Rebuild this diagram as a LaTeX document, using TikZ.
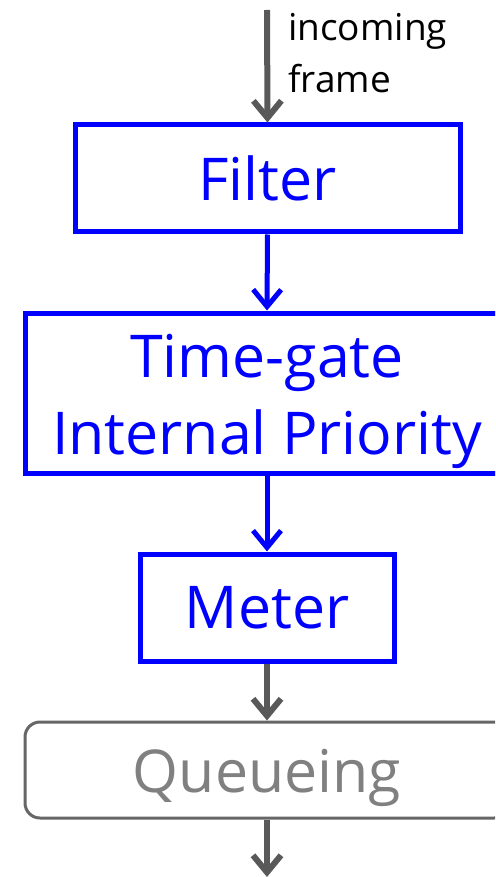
\documentclass[tikz,border=0pt]{standalone}
\usepackage{fontspec}
\setmainfont{Open Sans}
\usetikzlibrary{arrows.meta}
\definecolor{arrgray}{HTML}{595959}
\definecolor{boxgray}{HTML}{666666}
\definecolor{txtgray}{HTML}{808080}
\begin{document}
\begin{tikzpicture}[x=1pt,y=-1pt,
  bluebox/.style={draw=blue,line width=5pt,text=blue,inner sep=0pt,
    font=\fontsize{59}{77}\selectfont,align=center},
  graybox/.style={draw=boxgray,line width=3pt,text=txtgray,rounded corners=15pt,inner sep=0pt,
    font=\fontsize{59}{77}\selectfont},
  barrow/.style={draw=blue,line width=5pt,-{Straight Barb[length=17pt,width=28pt]}},
  garrow/.style={draw=arrgray,line width=6pt,-{Straight Barb[length=17pt,width=28pt]}},
  lbl/.style={font=\fontsize{37}{52}\selectfont,text=black,align=left,inner sep=0pt}
]
\useasboundingbox (0,0) rectangle (495,877);
\clip (0,0) rectangle (495,877);
\node[bluebox,minimum width=385pt,minimum height=107pt] (filter) at (267.5,178.5) {Filter};
\node[bluebox,minimum width=484pt,minimum height=160pt] (tg) at (267,393) {\rule{0pt}{61pt}Time-gate\\Internal Priority};
\node[bluebox,minimum width=254pt,minimum height=107pt] (meter) at (267,607.5) {Meter};
\node[graybox,minimum width=484pt,minimum height=96pt] (queue) at (267,770) {\rule{0pt}{59pt}Queueing};
\coordinate (in) at (267,10);
\coordinate (out) at (267,877);
\node[lbl,anchor=north west] (lab) at (288,13) {incoming\\frame};
\draw[garrow] (in) -- (filter.north);
\draw[barrow] (filter.south) -- (tg.north);
\draw[barrow] (tg.south) -- (meter.north);
\draw[garrow] (meter.south) -- (queue.north);
\draw[garrow] (queue.south) -- (out);
\end{tikzpicture}
\end{document}
